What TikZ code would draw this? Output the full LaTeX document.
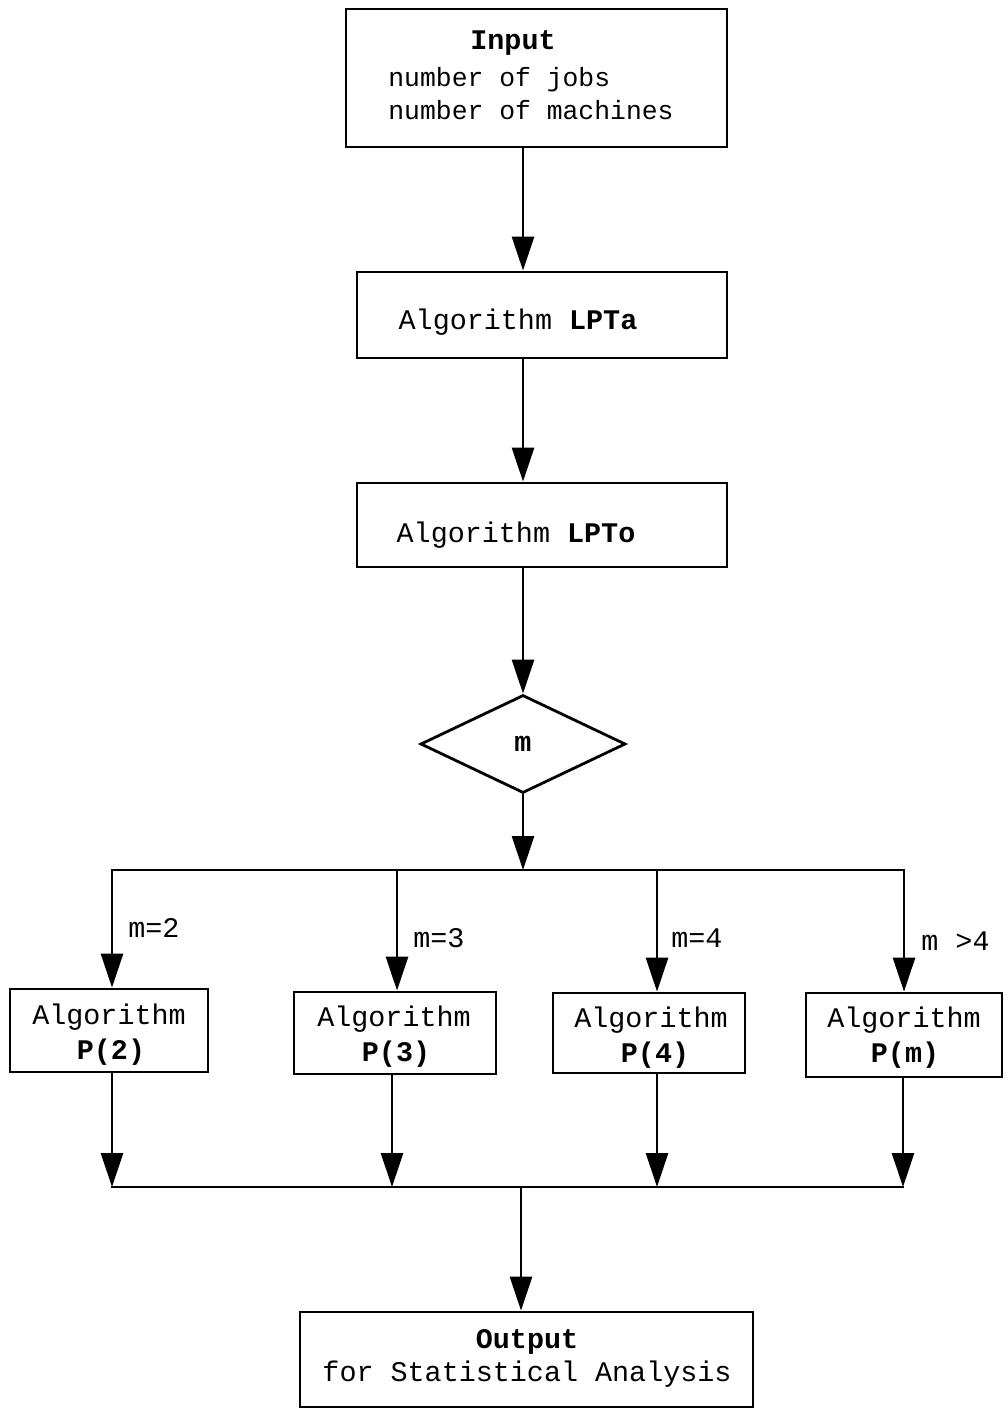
\documentclass[tikz,border=0pt]{standalone}
\usepackage{fontspec}
\setmainfont{Liberation Mono}
\usetikzlibrary{arrows.meta,fit,shapes.geometric}
\begin{document}
\begin{tikzpicture}[x=0.5pt,y=-0.5pt,
  box/.style={draw,line width=1.4pt,inner sep=0pt},
  txt/.style={font=\fontsize{14.2pt}{18pt}\selectfont,inner sep=0pt,text height=0.7em,text depth=0.2em},
  small/.style={font=\fontsize{13.2pt}{16.5pt}\selectfont,inner sep=0pt},
  lbl/.style={txt,anchor=west},
  bus/.style={line width=1.4pt,line cap=rect},
  arr/.style={line width=1.4pt,-{Triangle[length=17pt,width=11pt]}}]
\useasboundingbox (0,0) rectangle (1005,1416);

% boxes
\node[box,fit={(346,9) (727,147)}] (input) {};
\node[box,fit={(357,272) (727,358)}] (lpta) {};
\node[box,fit={(357,483) (727,567)}] (lpto) {};
\node[box,diamond,minimum width=102.5pt,minimum height=49pt] (dia) at (523,744) {};
\node[box,fit={(10,989) (208,1072)}] (p2) {};
\node[box,fit={(294,992) (496,1074)}] (p3) {};
\node[box,fit={(553,993) (745,1073)}] (p4) {};
\node[box,fit={(806,993) (1002,1077)}] (pm) {};
\node[box,fit={(300,1312) (753,1407)}] (out) {};

% texts
\node[txt] (tin) at (513,45) {\textbf{Input}};
\node[small,anchor=west,align=left] (tinl) at (388,94) {number of jobs\\number of machines};
\node[txt] (ta) at (518,325) {Algorithm \textbf{LPTa}};
\node[txt] (to) at (516,537) {Algorithm \textbf{LPTo}};
\node[txt] (tm) at (523,746) {\textbf{m}};
\node[txt] (t2a) at (109,1019) {Algorithm};
\node[txt] (t2b) at (111,1054) {\textbf{P(2)}};
\node[txt] (t3a) at (394,1021) {Algorithm};
\node[txt] (t3b) at (396,1056) {\textbf{P(3)}};
\node[txt] (t4a) at (651,1022) {Algorithm};
\node[txt] (t4b) at (655,1057) {\textbf{P(4)}};
\node[txt] (tma) at (904,1022) {Algorithm};
\node[txt] (tmb) at (905,1057) {\textbf{P(m)}};
\node[txt] (to1) at (527,1343) {\textbf{Output}};
\node[txt] (to2) at (527,1376) {for Statistical Analysis};

% labels
\node[lbl] (l2) at (128,932) {m=2};
\node[lbl] (l3) at (413,942) {m=3};
\node[lbl] (l4) at (671,942) {m=4};
\node[lbl] (lm) at (921,945) {m >4};

% top connectors
\draw[arr] (input.south -| dia.north) -- (lpta.north -| dia.north);
\draw[arr] (lpta.south -| dia.north) -- (lpto.north -| dia.north);
\draw[arr] (lpto.south -| dia.north) -- (dia.north);

% upper bus
\coordinate (b1) at (112,870);
\coordinate (b2) at (397,870);
\coordinate (b3) at (657,870);
\coordinate (b4) at (904,870);
\draw[bus] (b1) -- (b4);
\draw[arr] (dia.south) -- (dia.south |- b1);
\draw[arr] (b1) -- (b1 |- p2.north);
\draw[arr] (b2) -- (b2 |- p3.north);
\draw[arr] (b3) -- (b3 |- p4.north);
\draw[arr] (b4) -- (b4 |- pm.north);

% lower bus
\coordinate (c1) at (112,1187);
\coordinate (c2) at (392,1187);
\coordinate (c3) at (657,1187);
\coordinate (c4) at (903,1187);
\coordinate (c0) at (521,1187);
\draw[bus] (c1) -- (c4);
\draw[arr] (c1 |- p2.south) -- (c1);
\draw[arr] (c2 |- p3.south) -- (c2);
\draw[arr] (c3 |- p4.south) -- (c3);
\draw[arr] (c4 |- pm.south) -- (c4);
\draw[arr] (c0) -- (c0 |- out.north);
\end{tikzpicture}
\end{document}
